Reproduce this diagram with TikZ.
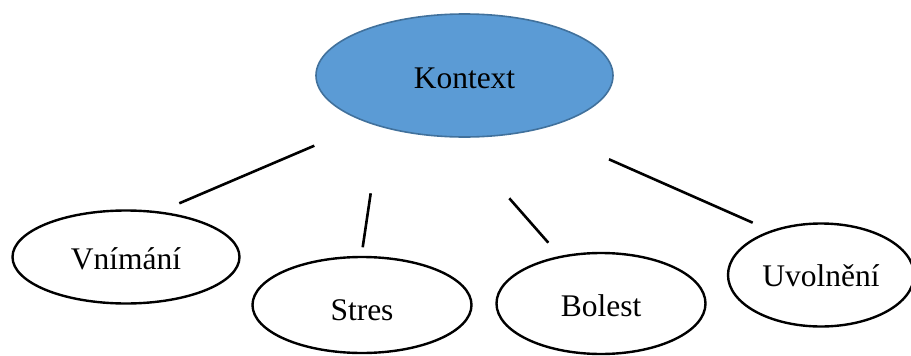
\documentclass[tikz,border=0pt]{standalone}
\usepackage{fontspec}
\setmainfont{Liberation Serif}
\usetikzlibrary{shapes.geometric}
\definecolor{ctxfill}{HTML}{5B9BD5}
\definecolor{ctxline}{HTML}{41719C}
\begin{document}
\begin{tikzpicture}[x=1pt,y=-1pt,
  oval/.style={ellipse, draw=black, line width=2.4pt, fill=white, inner sep=0pt,
    outer sep=0pt, font=\fontsize{31.5}{36}\selectfont, text height=25pt, text depth=0pt},
  hub/.style={oval, draw=ctxline, line width=1.6pt, fill=ctxfill},
  link/.style={line width=2.6pt, black}]
\useasboundingbox (0,0) rectangle (911,356);

% central topic
\node[hub, minimum width=297pt, minimum height=123pt] (ctx) at (464.5,75.5) {Kontext};

% surrounding topics
\node[oval, minimum width=227pt, minimum height=93pt]  (vnim) at (126,257) {Vnímání};
\node[oval, minimum width=219pt, minimum height=96pt, text height=30pt] (stres) at (362,305) {Stres};
\node[oval, minimum width=209pt, minimum height=101pt] (bol) at (601,303.5) {Bolest};
\node[oval, minimum width=186pt, minimum height=103pt, text height=23.5pt] (uvol) at (821,275) {Uvolnění};

% connector end points
\coordinate (a1) at (314.3,145.7); \coordinate (a2) at (179.3,203.3);
\coordinate (b1) at (370.7,193.3); \coordinate (b2) at (362.7,247.3);
\coordinate (c1) at (509.3,198.3); \coordinate (c2) at (548.3,242.7);
\coordinate (d1) at (609,159.3);   \coordinate (d2) at (752.7,222.7);

\draw[link] (a1) -- (a2);
\draw[link] (b1) -- (b2);
\draw[link] (c1) -- (c2);
\draw[link] (d1) -- (d2);
\end{tikzpicture}
\end{document}
